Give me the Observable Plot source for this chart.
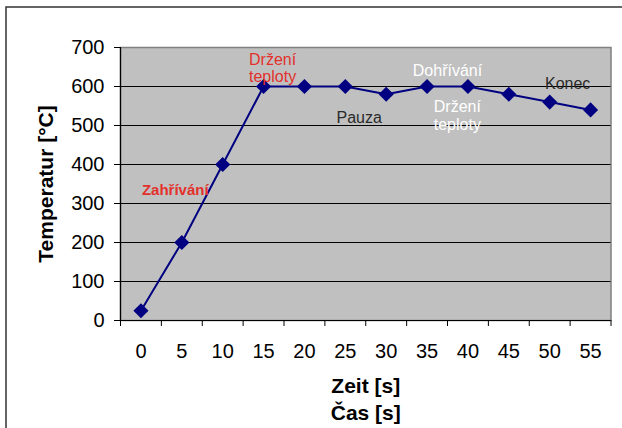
<!DOCTYPE html>
<html>
<head>
<meta charset="utf-8">
<script src="https://cdn.jsdelivr.net/npm/d3@7"></script>
<script src="https://cdn.jsdelivr.net/npm/@observablehq/plot@0.6"></script>
<style>
  html, body { margin: 0; padding: 0; background: #fff; }
</style>
</head>
<body>
<div id="chart"></div>
<script>
// Data
const times = [0, 5, 10, 15, 20, 25, 30, 35, 40, 45, 50, 55];
const temps = [25, 200, 400, 600, 600, 600, 580, 600, 600, 580, 560, 540];
const yTicks = [0, 100, 200, 300, 400, 500, 600, 700];
const xEdges = [-2.5, 2.5, 7.5, 12.5, 17.5, 22.5, 27.5, 32.5, 37.5, 42.5, 47.5, 52.5, 57.5];

// Annotations
const annoText = ["Zahřívání", "Držení\nteploty", "Pauza", "Dohřívání", "Držení\nteploty", "Konec"];
const annoX = [4.2, 16.1, 26.7, 37.5, 38.7, 52.2];
const annoY = [334, 648, 522, 642, 527, 609];
const annoColor = ["#e3302c", "#e3302c", "#2a2a2a", "#ffffff", "#ffffff", "#2a2a2a"];
const annoBold = [true, false, false, false, false, false];

const points = times.map((t, i) => ({t, v: temps[i]}));
const annos = annoText.map((s, i) => ({s, x: annoX[i], y: annoY[i], c: annoColor[i], b: annoBold[i]}));

const font = "Arial, 'Liberation Sans', sans-serif";

const chart = Plot.plot({
  width: 622,
  height: 428,
  marginLeft: 120,
  marginRight: 11.5,
  marginTop: 47,
  marginBottom: 108,
  style: {fontFamily: font, background: "#fff", color: "#000", overflow: "visible"},
  x: {type: "linear", domain: [-2.5, 57.5]},
  y: {domain: [0, 700]},
  marks: [
    Plot.frame({fill: "#c0c0c0", stroke: "#808080", strokeWidth: 1.5}),
    Plot.ruleY(yTicks.filter(v => v > 0 && v < 700), {stroke: "#000", strokeWidth: 1}),
    Plot.ruleX([-2.5], {stroke: "#000", strokeWidth: 1.2}),
    Plot.ruleY([0], {stroke: "#000", strokeWidth: 1.2}),
    Plot.axisY(yTicks, {tickSize: 6, tickPadding: 10, fontSize: 20, label: null, stroke: "#000"}),
    Plot.axisX(xEdges, {tickSize: 6, tickFormat: () => "", label: null, stroke: "#000"}),
    Plot.axisX(times, {tickSize: 0, tickPadding: 23, fontSize: 20, label: null}),
    Plot.line(points, {x: "t", y: "v", stroke: "#000080", strokeWidth: 2}),
    Plot.dot(points, {x: "t", y: "v", symbol: "diamond2", r: 6.8, fill: "#000080", stroke: "none"}),
    Plot.text(annos.filter(d => d.b), {x: "x", y: "y", text: "s", fill: "c", fontWeight: "bold", fontSize: 15}),
    Plot.text(annos.filter(d => !d.b), {x: "x", y: "y", text: "s", fill: "c", fontSize: 16, lineHeight: 1.12}),
    Plot.text(["Zeit [s]"], {text: d => d, frameAnchor: "bottom", lineAnchor: "middle", textAnchor: "middle", dy: 66, fontSize: 21, fontWeight: "bold", fill: "#000"}),
    Plot.text(["Čas [s]"], {text: d => d, frameAnchor: "bottom", lineAnchor: "middle", textAnchor: "middle", dy: 93, fontSize: 21, fontWeight: "bold", fill: "#000"}),
    Plot.text(["Temperatur [°C]"], {text: d => d, frameAnchor: "left", lineAnchor: "middle", textAnchor: "middle", dx: -74, rotate: -90, fontSize: 21, fontWeight: "bold", fill: "#000"})
  ]
});

d3.select(chart).append("rect")
  .attr("x", 6).attr("y", 7).attr("width", 700).attr("height", 500)
  .attr("fill", "none").attr("stroke", "#333").attr("stroke-width", 1.5);

document.getElementById("chart").appendChild(chart);
</script>
</body>
</html>
